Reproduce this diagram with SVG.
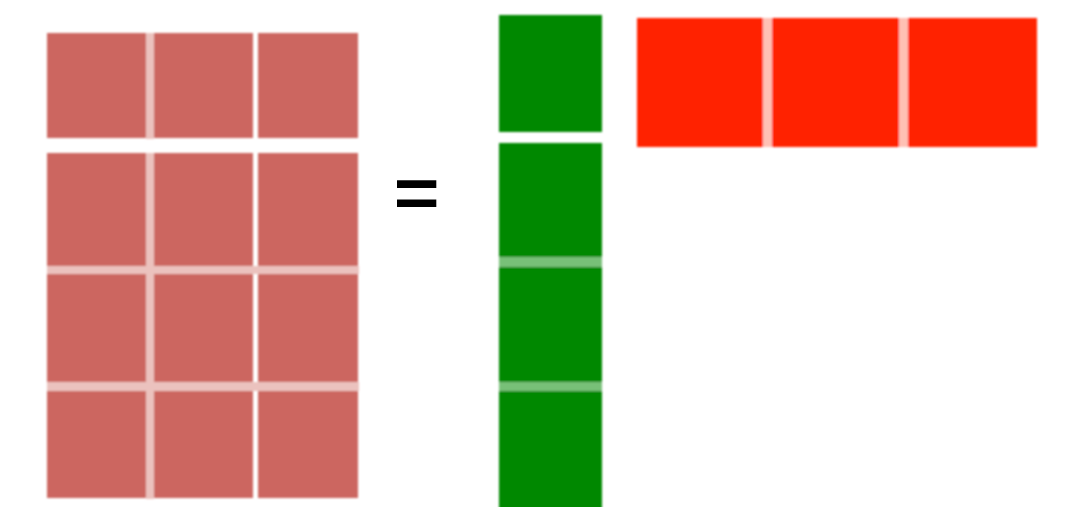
<svg xmlns="http://www.w3.org/2000/svg" width="1071" height="507" viewBox="0 0 1071 507">
  <defs>
    <filter id="soft" x="-5%" y="-5%" width="110%" height="110%">
      <feGaussianBlur stdDeviation="0.8"/>
    </filter>
  </defs>
  <style>
    .a { fill: #cc6660; }
    .ag { fill: #ebc2be; }
    .g { fill: #008800; }
    .gg { fill: #78c078; }
    .r { fill: #ff2400; }
    .rg { fill: #ffc0b4; }
    .eq { font-family: "Liberation Sans", Arial, sans-serif; font-weight: bold; fill: #000000; }
  </style>
  <rect width="1071" height="507" fill="#ffffff"/>

  <g id="matrix-a" filter="url(#soft)">
    <rect class="ag" x="146" y="33" width="8" height="106"/>
    <rect class="ag" x="146" y="153" width="8" height="346"/>
    <rect class="ag" x="47" y="266" width="312" height="8"/>
    <rect class="ag" x="47" y="382" width="312" height="9"/>
    <rect class="a" x="47" y="33" width="99" height="105"/>
    <rect class="a" x="154" y="33" width="99" height="105"/>
    <rect class="a" x="258" y="33" width="100" height="105"/>
    <rect class="a" x="47" y="153" width="99" height="113"/>
    <rect class="a" x="154" y="153" width="99" height="113"/>
    <rect class="a" x="258" y="153" width="100" height="113"/>
    <rect class="a" x="47" y="274" width="99" height="108"/>
    <rect class="a" x="154" y="274" width="99" height="108"/>
    <rect class="a" x="258" y="274" width="100" height="108"/>
    <rect class="a" x="47" y="391" width="99" height="107"/>
    <rect class="a" x="154" y="391" width="99" height="107"/>
    <rect class="a" x="258" y="391" width="100" height="107"/>
  </g>

  <g id="equals">
    <text class="eq" transform="translate(416.7 0) scale(1.12 1)" x="0" y="217" font-size="70" text-anchor="middle">=</text>
  </g>

  <g id="matrix-b" filter="url(#soft)">
    <rect class="gg" x="499" y="256" width="103" height="11"/>
    <rect class="gg" x="499" y="381" width="103" height="10"/>
    <rect class="g" x="499" y="15" width="103" height="117"/>
    <rect class="g" x="499" y="143" width="103" height="114"/>
    <rect class="g" x="499" y="267" width="103" height="115"/>
    <rect class="g" x="499" y="391" width="103" height="120"/>
  </g>

  <g id="matrix-c" filter="url(#soft)">
    <rect class="rg" x="763" y="18" width="9" height="129"/>
    <rect class="rg" x="899" y="18" width="9" height="129"/>
    <rect class="r" x="637" y="18" width="126" height="129"/>
    <rect class="r" x="772" y="18" width="127" height="129"/>
    <rect class="r" x="908" y="18" width="129" height="129"/>
  </g>
</svg>
